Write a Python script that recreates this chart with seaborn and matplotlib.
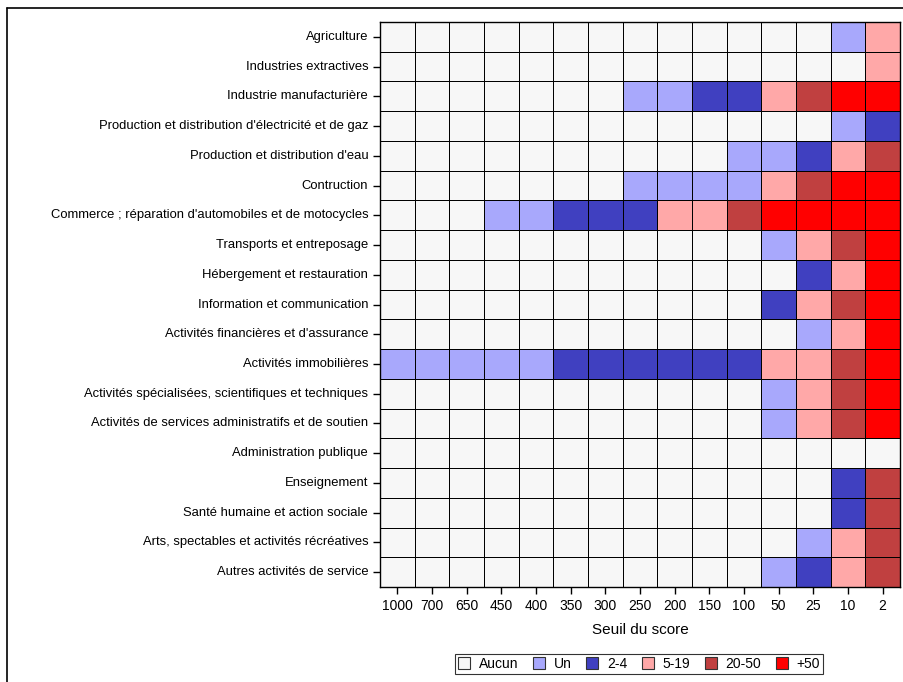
import numpy as np
import pandas as pd
import matplotlib
matplotlib.use("Agg")
import matplotlib.pyplot as plt
from matplotlib.colors import ListedColormap
from matplotlib.patches import Patch
from matplotlib.lines import Line2D
import seaborn as sns

sns.set_theme(style="white")
plt.rcParams['font.family'] = ['Liberation Sans', 'DejaVu Sans']
plt.rcParams.update({"text.color": "black", "axes.labelcolor": "black",
                     "xtick.color": "black", "ytick.color": "black"})

# %% data
secteurs = [
    "Agriculture",
    "Industries extractives",
    "Industrie manufacturière",
    "Production et distribution d'électricité et de gaz",
    "Production et distribution d'eau",
    "Contruction",
    "Commerce ; réparation d'automobiles et de motocycles",
    "Transports et entreposage",
    "Hébergement et restauration",
    "Information et communication",
    "Activités financières et d'assurance",
    "Activités immobilières",
    "Activités spécialisées, scientifiques et techniques",
    "Activités de services administratifs et de soutien",
    "Administration publique",
    "Enseignement",
    "Santé humaine et action sociale",
    "Arts, spectables et activités récréatives",
    "Autres activités de service",
]
seuils = ["1000", "700", "650", "450", "400", "350", "300", "250",
          "200", "150", "100", "50", "25", "10", "2"]
classes = ["Aucun", "Un", "2-4", "5-19", "20-50", "+50"]
couleurs = ["#f7f7f7", "#a8a8fc", "#4040c0", "#ffa8a8", "#c04040", "#ff0000"]

# class index per cell (0=Aucun ... 5=+50), columns follow seuils
niveaux = [
    [0, 0, 0, 0, 0, 0, 0, 0, 0, 0, 0, 0, 0, 1, 3],
    [0, 0, 0, 0, 0, 0, 0, 0, 0, 0, 0, 0, 0, 0, 3],
    [0, 0, 0, 0, 0, 0, 0, 1, 1, 2, 2, 3, 4, 5, 5],
    [0, 0, 0, 0, 0, 0, 0, 0, 0, 0, 0, 0, 0, 1, 2],
    [0, 0, 0, 0, 0, 0, 0, 0, 0, 0, 1, 1, 2, 3, 4],
    [0, 0, 0, 0, 0, 0, 0, 1, 1, 1, 1, 3, 4, 5, 5],
    [0, 0, 0, 1, 1, 2, 2, 2, 3, 3, 4, 5, 5, 5, 5],
    [0, 0, 0, 0, 0, 0, 0, 0, 0, 0, 0, 1, 3, 4, 5],
    [0, 0, 0, 0, 0, 0, 0, 0, 0, 0, 0, 0, 2, 3, 5],
    [0, 0, 0, 0, 0, 0, 0, 0, 0, 0, 0, 2, 3, 4, 5],
    [0, 0, 0, 0, 0, 0, 0, 0, 0, 0, 0, 0, 1, 3, 5],
    [1, 1, 1, 1, 1, 2, 2, 2, 2, 2, 2, 3, 3, 4, 5],
    [0, 0, 0, 0, 0, 0, 0, 0, 0, 0, 0, 1, 3, 4, 5],
    [0, 0, 0, 0, 0, 0, 0, 0, 0, 0, 0, 1, 3, 4, 5],
    [0, 0, 0, 0, 0, 0, 0, 0, 0, 0, 0, 0, 0, 0, 0],
    [0, 0, 0, 0, 0, 0, 0, 0, 0, 0, 0, 0, 0, 2, 4],
    [0, 0, 0, 0, 0, 0, 0, 0, 0, 0, 0, 0, 0, 2, 4],
    [0, 0, 0, 0, 0, 0, 0, 0, 0, 0, 0, 0, 1, 3, 4],
    [0, 0, 0, 0, 0, 0, 0, 0, 0, 0, 0, 1, 2, 3, 4],
]

df = pd.DataFrame(niveaux, index=secteurs, columns=seuils)

# %% figure
fig = plt.figure(figsize=(9.04, 6.82), dpi=100)
ax = fig.add_axes([380 / 904, 1 - 587 / 682, 520 / 904, 565 / 682])

sns.heatmap(df, ax=ax, cmap=ListedColormap(couleurs), vmin=-0.5, vmax=5.5,
            cbar=False, linewidths=0.65, linecolor="black", square=False)

for s in ax.spines.values():
    s.set_visible(True)
    s.set_color("black")
    s.set_linewidth(1)

ax.tick_params(axis="both", which="both", length=5, width=1, color="black",
               bottom=True, left=True)
ax.tick_params(axis="y", labelsize=9.4)
ax.tick_params(axis="x", labelsize=10, pad=4)
ax.set_yticklabels(secteurs, rotation=0)
ax.set_xticklabels(seuils, rotation=0)
ax.set_xlabel("Seuil du score", fontsize=11, labelpad=7)
ax.set_ylabel("")

# outer frame (top and left edges visible in the original)
fig.add_artist(Line2D([7 / 904, 7 / 904], [0, 1 - 8 / 682], transform=fig.transFigure,
                      color="black", linewidth=1.2))
fig.add_artist(Line2D([7 / 904, 1], [1 - 8 / 682, 1 - 8 / 682], transform=fig.transFigure,
                      color="black", linewidth=1.2))

handles = [Patch(facecolor=c, edgecolor="#333333", linewidth=0.8) for c in couleurs]
leg = fig.legend(handles, classes, loc="center", bbox_to_anchor=(639 / 904, 1 - 664 / 682),
                 ncol=6, frameon=True, fontsize=10, handlelength=0.9, handleheight=0.9,
                 handletextpad=0.6, columnspacing=1.05, borderpad=0.2, fancybox=False)
leg.get_frame().set_edgecolor("black")
leg.get_frame().set_linewidth(0.8)

fig.savefig("out.png", dpi=100)
